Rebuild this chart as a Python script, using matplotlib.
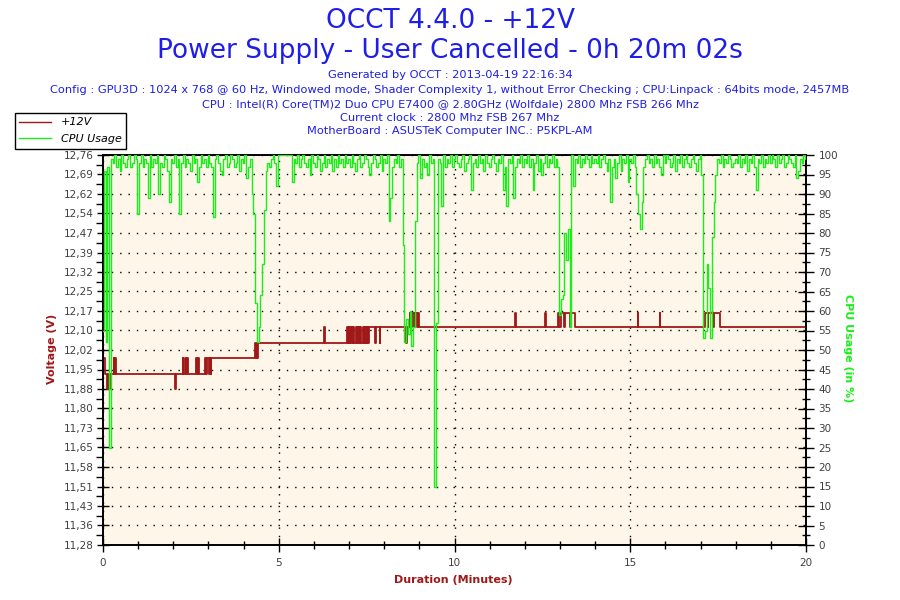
import numpy as np
import matplotlib
matplotlib.use("Agg")
import matplotlib.pyplot as plt
from matplotlib.lines import Line2D

# ---------------- data ----------------
title_lines = ["OCCT 4.4.0 - +12V", "Power Supply - User Cancelled - 0h 20m 02s"]
info_lines = [
    "Generated by OCCT : 2013-04-19 22:16:34",
    "Config : GPU3D : 1024 x 768 @ 60 Hz, Windowed mode, Shader Complexity 1, without Error Checking ; CPU:Linpack : 64bits mode, 2457MB",
    "CPU : Intel(R) Core(TM)2 Duo CPU E7400 @ 2.80GHz (Wolfdale) 2800 Mhz FSB 266 Mhz",
    "Current clock : 2800 Mhz FSB 267 Mhz",
    "MotherBoard : ASUSTeK Computer INC.: P5KPL-AM",
]

volt_tick_labels = ["11,28", "11,36", "11,43", "11,51", "11,58", "11,65", "11,73",
                    "11,80", "11,88", "11,95", "12,02", "12,10", "12,17", "12,25",
                    "12,32", "12,39", "12,47", "12,54", "12,62", "12,69", "12,76"]
volt_range = (11.284, 12.765)
cpu_ticks = list(range(0, 101, 5))
x_ticks = [0, 5, 10, 15, 20]

# +12V reading: step change points (minutes, volts)
volt_t = [0.00, 0.05, 0.10, 0.13, 0.16, 0.20, 0.30, 0.32, 0.35, 0.37,
          2.06, 2.09, 2.27, 2.29, 2.33, 2.35, 2.39, 2.41, 2.66, 2.68,
          2.71, 2.73, 2.90, 2.92, 2.97, 3.02, 3.04, 3.06, 3.08,
          4.32, 4.34, 4.37, 4.39, 4.42,
          6.29, 6.32,
          6.95, 6.97, 6.99, 7.01, 7.03, 7.05, 7.08, 7.10, 7.12, 7.14,
          7.20, 7.22, 7.24, 7.26, 7.28, 7.30, 7.32, 7.34,
          7.40, 7.42, 7.44, 7.46, 7.48, 7.50, 7.52, 7.54, 7.57,
          7.74, 7.77, 7.87, 7.89,
          8.62, 8.66, 8.72, 8.74, 8.80, 8.84, 8.87, 8.93, 8.97, 9.00,
          11.72, 11.75, 12.57, 12.60, 12.95, 12.97, 13.02, 13.12, 13.14,
          13.30, 13.32, 13.44, 15.21, 15.23, 15.84, 15.86,
          17.14, 17.20, 17.22, 17.36, 17.38, 17.54, 20.00]
volt_v = [11.993, 11.935, 11.876, 11.935, 11.876, 11.935, 11.993, 11.935, 11.993, 11.935,
          11.876, 11.935, 11.993, 11.935, 11.993, 11.935, 11.993, 11.935, 11.993, 11.935,
          11.993, 11.935, 11.993, 11.935, 11.993, 11.935, 11.993, 11.935, 11.993,
          12.052, 11.993, 12.052, 11.993, 12.052,
          12.111, 12.052,
          12.111, 12.052, 12.111, 12.052, 12.111, 12.052, 12.111, 12.052, 12.111, 12.052,
          12.111, 12.052, 12.111, 12.052, 12.111, 12.052, 12.111, 12.052,
          12.111, 12.052, 12.111, 12.052, 12.111, 12.052, 12.111, 12.052, 12.111,
          12.052, 12.111, 12.052, 12.111,
          12.052, 12.111, 12.165, 12.111, 12.165, 12.111, 12.165, 12.111, 12.165, 12.111,
          12.165, 12.111, 12.165, 12.111, 12.165, 12.111, 12.165, 12.111, 12.165,
          12.111, 12.165, 12.111, 12.165, 12.111, 12.165, 12.111,
          12.165, 12.111, 12.165, 12.111, 12.165, 12.111, 12.111]

# CPU usage (%) sampled every 0.05 minute, one row per minute
cpu_rows = [
    [55, 96, 52, 97, 25, 99, 98, 100, 97, 99, 96, 100, 98, 97, 99, 100, 97, 98, 100, 99],
    [85, 98, 100, 97, 99, 98, 89, 100, 97, 99, 98, 100, 90, 98, 97, 100, 99, 96, 88, 99],
    [98, 100, 97, 99, 85, 98, 100, 97, 99, 98, 96, 100, 98, 99, 93, 97, 100, 98, 99, 97],
    [100, 98, 97, 84, 99, 100, 98, 96, 95, 99, 100, 97, 98, 100, 99, 97, 98, 100, 96, 99],
    [98, 100, 94, 97, 99, 90, 85, 62, 52, 56, 64, 72, 86, 96, 98, 97, 99, 100, 98, 92],
    [100, 100, 100, 100, 100, 100, 100, 100, 93, 99, 98, 100, 97, 99, 100, 98, 97, 99, 95, 100],
    [98, 97, 100, 99, 96, 98, 100, 97, 99, 98, 100, 96, 99, 97, 100, 98, 99, 97, 100, 98],
    [99, 97, 100, 98, 96, 99, 100, 97, 98, 100, 99, 97, 95, 98, 100, 99, 97, 98, 100, 96],
    [99, 98, 100, 83, 89, 97, 99, 98, 100, 97, 99, 77, 52, 58, 54, 60, 51, 56, 83, 98],
    [100, 94, 99, 97, 98, 95, 100, 98, 99, 15, 57, 99, 98, 87, 100, 97, 99, 98, 100, 97],
    [99, 100, 98, 97, 99, 100, 96, 98, 99, 100, 91, 98, 99, 97, 100, 98, 99, 96, 100, 98],
    [97, 99, 100, 98, 96, 99, 98, 100, 91, 97, 87, 99, 98, 100, 89, 97, 99, 98, 100, 97],
    [99, 98, 100, 97, 99, 91, 98, 100, 96, 99, 95, 98, 100, 97, 99, 98, 100, 97, 99, 97],
    [59, 63, 64, 80, 73, 81, 56, 100, 92, 99, 98, 100, 97, 99, 98, 100, 99, 97, 100, 98],
    [99, 98, 100, 97, 99, 100, 98, 96, 99, 88, 97, 99, 94, 98, 100, 96, 99, 98, 100, 93],
    [99, 98, 100, 97, 90, 85, 81, 88, 97, 99, 100, 98, 99, 97, 100, 98, 99, 97, 95, 100],
    [98, 100, 99, 97, 98, 100, 96, 99, 98, 100, 97, 99, 100, 98, 97, 99, 100, 98, 96, 99],
    [100, 95, 53, 55, 72, 66, 53, 79, 88, 95, 99, 98, 100, 97, 99, 98, 100, 99, 97, 98],
    [99, 98, 100, 97, 99, 98, 100, 96, 99, 98, 100, 97, 91, 99, 98, 100, 97, 99, 98, 100],
    [98, 100, 99, 97, 100, 98, 99, 100, 97, 98, 100, 99, 98, 97, 100, 94, 96, 99, 98, 100],
]
cpu_last = [99]

cpu_values = np.array([v for row in cpu_rows for v in row] + cpu_last, dtype=float)
cpu_minutes = np.arange(len(cpu_values)) * 0.05

# ---------------- style ----------------
BLUE = "#1E1EE6"
RED = "#A01818"
GREEN = "#19EE19"
BG = "#FDF6E9"
TICKTXT = "#404040"

plt.rcParams["font.family"] = ["DejaVu Sans"]

fig = plt.figure(figsize=(9, 6), dpi=100)
ax = fig.add_axes([103 / 900, 55 / 600, 703 / 900, 390 / 600])
ax.set_facecolor(BG)
ax2 = ax.twinx()

# voltage (left)
ax.step(volt_t, volt_v, where="post", color=RED, linewidth=1.3, zorder=3)
ax.set_xlim(0, 20)
ax.set_ylim(*volt_range)
vt = np.linspace(volt_range[0], volt_range[1], len(volt_tick_labels))
ax.set_yticks(vt)
ax.set_yticklabels(volt_tick_labels)
ax.set_yticks((vt[:-1] + vt[1:]) / 2, minor=True)
ax.set_xticks(x_ticks)
ax.set_xticks(np.arange(0, 21, 1), minor=True)

ax.grid(True, which="major", linestyle=(0, (1, 5)), color="black", linewidth=1.0)
ax.set_axisbelow(True)

# CPU (right)
ax2.plot(cpu_minutes, cpu_values, color=GREEN, linewidth=1.0, zorder=4,
         drawstyle="steps-mid")
ax2.set_ylim(0, 100)
ax2.set_yticks(cpu_ticks)
ax2.set_yticks(np.arange(2.5, 100, 5), minor=True)

for a in (ax, ax2):
    for s in a.spines.values():
        s.set_linewidth(1.2)
        s.set_color("black")

ax.tick_params(axis="y", which="major", direction="inout", length=9, width=1.0,
               labelsize=7.5, labelcolor=TICKTXT, pad=2)
ax.tick_params(axis="y", which="minor", direction="out", length=5, width=1.0)
ax.tick_params(axis="x", which="major", direction="inout", length=10, width=1.0,
               labelsize=7.5, labelcolor=TICKTXT, pad=4)
ax.tick_params(axis="x", which="minor", direction="inout", length=6, width=1.0)
ax2.tick_params(axis="y", which="major", direction="inout", length=12, width=1.0,
                labelsize=7.5, labelcolor=TICKTXT, pad=3)
ax2.tick_params(axis="y", which="minor", direction="inout", length=6, width=1.0)

# axis labels
fig.text(52 / 900, 1 - 349 / 600, "Voltage (V)", rotation=90, color=RED,
         fontsize=8, fontweight="bold", ha="center", va="center")
fig.text(848 / 900, 1 - 348 / 600, "CPU Usage (in %)", rotation=-90, color=GREEN,
         fontsize=8, fontweight="bold", ha="center", va="center")
fig.text(453 / 900, 1 - 580 / 600, "Duration (Minutes)", color=RED,
         fontsize=8, fontweight="bold", ha="center", va="center")

# titles
fig.text(0.5, 1 - 21 / 600, title_lines[0], color=BLUE, fontsize=19,
         ha="center", va="center")
fig.text(0.5, 1 - 51 / 600, title_lines[1], color=BLUE, fontsize=19,
         ha="center", va="center")
info_y = [75, 90, 104, 118, 131]
for yy, txt in zip(info_y, info_lines):
    fig.text(0.5, 1 - yy / 600, txt, color=BLUE, fontsize=8.2,
             ha="center", va="center")

# legend
handles = [Line2D([], [], color=RED, linewidth=1.0),
           Line2D([], [], color=GREEN, linewidth=1.0)]
leg = fig.legend(handles, ["+12V", "CPU Usage"], loc="upper left",
                 bbox_to_anchor=(15 / 900, 1 - 113 / 600), frameon=True,
                 fancybox=False, edgecolor="black", framealpha=1,
                 borderaxespad=0, handlelength=2.8, handletextpad=0.9,
                 borderpad=0.4, labelspacing=0.6,
                 prop={"size": 8, "style": "italic"})
leg.get_frame().set_linewidth(1.0)

fig.savefig("out.png", dpi=100, facecolor="white")
